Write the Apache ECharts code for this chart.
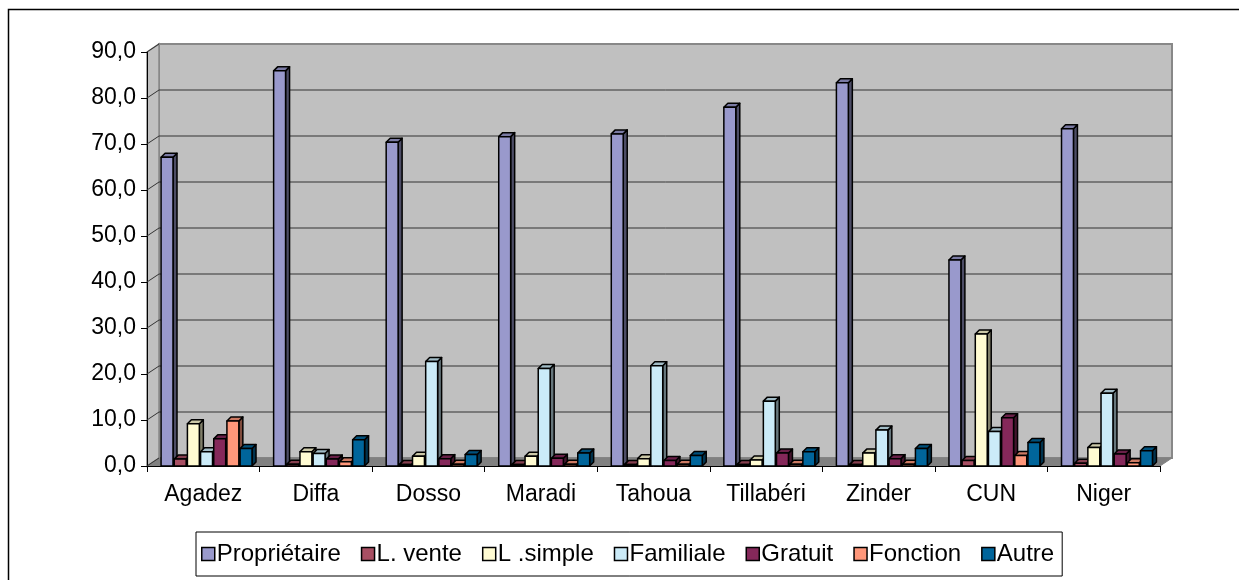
<!DOCTYPE html>
<html>
<head>
<meta charset="utf-8">
<script src="https://cdn.jsdelivr.net/npm/echarts@6/dist/echarts.min.js"></script>
<style>
  html, body { margin: 0; padding: 0; background: #fff; }
  #chart { width: 1239px; height: 580px; }
</style>
</head>
<body>
<div id="chart"></div>
<script>
// categories and values
var regions = ['Agadez', 'Diffa', 'Dosso', 'Maradi', 'Tahoua', 'Tillabéri', 'Zinder', 'CUN', 'Niger'];
var yTicks = [0, 10, 20, 30, 40, 50, 60, 70, 80, 90];

var proprietaire = [67.1, 85.9, 70.4, 71.6, 72.2, 78.0, 83.3, 44.8, 73.3];
var lVente       = [1.5, 0.4, 0.3, 0.3, 0.3, 0.3, 0.3, 1.2, 0.6];
var lSimple      = [9.2, 3.1, 2.1, 2.1, 1.6, 1.3, 2.8, 28.7, 4.0];
var familiale    = [3.1, 2.7, 22.7, 21.2, 21.8, 14.1, 7.8, 7.5, 15.8];
var gratuit      = [5.9, 1.5, 1.6, 1.7, 1.2, 2.8, 1.6, 10.5, 2.6];
var fonction     = [9.8, 0.9, 0.4, 0.4, 0.4, 0.4, 0.4, 2.3, 0.7];
var autre        = [3.8, 5.7, 2.5, 2.8, 2.3, 3.1, 3.8, 5.1, 3.3];

var seriesNames = ['Propriétaire', 'L. vente', 'L .simple', 'Familiale', 'Gratuit', 'Fonction', 'Autre'];
var seriesData = [proprietaire, lVente, lSimple, familiale, gratuit, fonction, autre];
var colors = ['#9999CC', '#A84F63', '#FFFBD2', '#CBEBF8', '#85285A', '#FF977A', '#00659B'];

var DX = 12, DY = 8;   // depth of walls
var BD = 4;            // depth of bars

function shade(hex, k) {
  var n = parseInt(hex.slice(1), 16);
  var r = Math.round(((n >> 16) & 255) * k), g = Math.round(((n >> 8) & 255) * k), b = Math.round((n & 255) * k);
  return 'rgb(' + r + ',' + g + ',' + b + ')';
}

function wallItem(params, api) {
  var cs = params.coordSys;
  var x0 = cs.x, x1 = cs.x + cs.width, y0 = cs.y, y1 = cs.y + cs.height;
  return {
    type: 'group',
    children: [
      { type: 'polygon', shape: { points: [[x0 + DX, y0 - DY], [x1 + DX, y0 - DY], [x1 + DX, y1 - DY], [x0 + DX, y1 - DY]] },
        style: { fill: '#C0C0C0', stroke: '#888', lineWidth: 2 } },
      { type: 'polygon', shape: { points: [[x0, y0], [x0 + DX, y0 - DY], [x0 + DX, y1 - DY], [x0, y1]] },
        style: { fill: '#C0C0C0', stroke: '#888', lineWidth: 1.5 } },
      { type: 'polygon', shape: { points: [[x0, y1], [x0 + DX, y1 - DY], [x1 + DX, y1 - DY], [x1, y1]] },
        style: { fill: '#808080', stroke: '#808080', lineWidth: 1 } }
    ]
  };
}

function gridItem(params, api) {
  var cs = params.coordSys;
  var v = api.value(1);
  var y = api.coord([0, v])[1];
  if (v === 0 || v === 90) {
    return { type: 'line', shape: { x1: cs.x, y1: y, x2: cs.x + DX, y2: y - DY }, style: { stroke: '#333', lineWidth: 1 } };
  }
  return {
    type: 'polyline',
    shape: { points: [[cs.x, y], [cs.x + DX, y - DY], [cs.x + cs.width + DX, y - DY]] },
    style: { stroke: '#333', lineWidth: 1, fill: null }
  };
}

function makeBar(si) {
  return function (params, api) {
    var top = api.coord([api.value(0), api.value(1)]);
    var base = api.coord([api.value(0), 0]);
    var bw = api.size([1, 0])[0];
    var x0 = base[0] - bw * 0.375 + si * bw * 0.117;
    var w = bw * 0.106;
    var yt = top[1], yb = base[1];
    var c = colors[si];
    var st = { stroke: '#000', lineWidth: 1.5, lineJoin: 'round' };
    return {
      type: 'group',
      children: [
        { type: 'polygon', shape: { points: [[x0 + w, yt], [x0 + w + BD, yt - BD], [x0 + w + BD, yb - BD], [x0 + w, yb]] },
          style: Object.assign({ fill: shade(c, 0.5) }, st) },
        { type: 'polygon', shape: { points: [[x0, yt], [x0 + BD, yt - BD], [x0 + w + BD, yt - BD], [x0 + w, yt]] },
          style: Object.assign({ fill: shade(c, 0.8) }, st) },
        { type: 'rect', shape: { x: x0, y: yt, width: w, height: yb - yt },
          style: Object.assign({ fill: c }, st) }
      ]
    };
  };
}

var series = [
  { type: 'custom', name: 'wall', renderItem: wallItem, data: [[0, 0]], encode: { x: 0, y: 1 }, silent: true, z: 0 },
  { type: 'custom', name: 'grid', renderItem: gridItem, data: yTicks.map(function (v) { return [0, v]; }), encode: { x: 0, y: 1 }, silent: true, z: 1 }
];
seriesNames.forEach(function (name, i) {
  series.push({
    type: 'custom',
    name: name,
    renderItem: makeBar(i),
    itemStyle: { color: colors[i] },
    encode: { x: 0, y: 1 },
    data: seriesData[i].map(function (v, k) { return [k, v]; }),
    z: 2
  });
});

var chart = echarts.init(document.getElementById('chart'));
chart.setOption({
  animation: false,
  textStyle: { fontFamily: 'Liberation Sans, Arial, sans-serif' },
  grid: { left: 147, right: 79, top: 52, bottom: 114, outerBoundsMode: 'none' },
  graphic: [
    { type: 'rect', shape: { x: 8.5, y: 9.5, width: 1260, height: 600 }, style: { fill: null, stroke: '#000', lineWidth: 1.5 }, z: -10 }
  ],
  legend: {
    data: seriesNames,
    left: 196, top: 532,
    padding: [10, 8, 10, 5],
    itemWidth: 13, itemHeight: 13, itemGap: 20,
    borderColor: '#000', borderWidth: 1,
    icon: 'rect',
    itemStyle: { borderColor: '#000', borderWidth: 1.5 },
    textStyle: { fontSize: 24, color: '#000', padding: [0, 0, 0, -3] }
  },
  xAxis: {
    type: 'category',
    data: regions,
    axisLine: { lineStyle: { color: '#000', width: 1 } },
    axisTick: { show: true, length: 6, lineStyle: { color: '#000' } },
    axisLabel: { fontSize: 23, color: '#000', margin: 17 },
    splitLine: { show: false }
  },
  yAxis: {
    type: 'value',
    min: 0, max: 90, interval: 10,
    axisLine: { show: true, lineStyle: { color: '#000', width: 1 } },
    axisTick: { show: true, length: 6, lineStyle: { color: '#000' } },
    axisLabel: { fontSize: 23, color: '#000', margin: 11, formatter: function (v) { return v.toFixed(1).replace('.', ','); } },
    splitLine: { show: false }
  },
  series: series
});
</script>
</body>
</html>
